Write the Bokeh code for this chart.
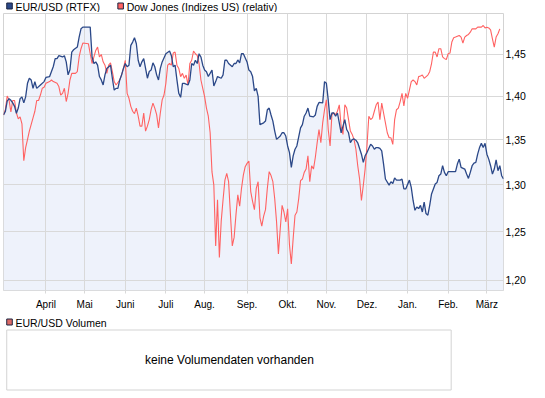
import pandas as pd
from bokeh.plotting import figure
from bokeh.models import Range1d, FixedTicker, CustomJSTickFormatter
from bokeh.layouts import column
from bokeh.core.properties import value
from bokeh.embed import file_html
from bokeh.resources import INLINE

# ---------------- data ----------------
series_names = ["EUR/USD (RTFX)", "Dow Jones (Indizes US) (relativ)"]
volume_name = "EUR/USD Volumen"
volume_note = "keine Volumendaten vorhanden"
start_date = "2011-03-01"
end_date = "2012-03-14"
month_labels = ["April", "Mai", "Juni", "Juli", "Aug.", "Sep.", "Okt.", "Nov.",
                "Dez.", "Jan.", "Feb.", "März"]
y_ticks = [1.20, 1.25, 1.30, 1.35, 1.40, 1.45]

# trading-day index (0 = first trading day) and EUR/USD close
eur_day = [0, 1, 2, 3, 4, 5, 6, 7, 8, 9, 10, 11, 12, 13, 14, 15, 16, 17, 18, 20,
           22, 23, 25, 26, 27, 28, 29, 30, 32, 33, 34, 35, 36, 37, 38, 40, 41, 42, 43, 44,
           47, 48, 49, 50, 51, 52, 53, 54, 55, 56, 58, 59, 60, 61, 62, 63, 64, 65, 66, 67,
           68, 69, 70, 71, 72, 73, 74, 75, 76, 77, 78, 79, 80, 81, 82, 83, 84, 85, 86, 88,
           90, 91, 92, 93, 94, 95, 96, 97, 98, 100, 101, 102, 103, 104, 105, 106, 107, 108, 109, 110,
           111, 113, 114, 115, 116, 118, 119, 120, 121, 122, 124, 125, 126, 127, 128, 129, 130, 132, 133, 134,
           135, 136, 137, 138, 139, 141, 142, 143, 144, 145, 146, 147, 148, 150, 151, 152, 153, 154, 155, 156,
           157, 158, 159, 161, 162, 163, 164, 165, 166, 168, 169, 170, 171, 173, 174, 175, 176, 177, 178, 179,
           180, 181, 182, 183, 184, 185, 186, 187, 188, 189, 190, 191, 192, 194, 195, 196, 197, 199, 200, 201,
           202, 203, 204, 205, 206, 207, 209, 210, 211, 212, 213, 215, 216, 217, 218, 220, 221, 222, 223, 224,
           225, 226, 227, 228, 229, 230, 231, 232, 233, 234, 235, 236, 237, 238, 239, 240, 241, 243, 245, 246,
           247, 248, 250, 251, 252, 253, 254, 255, 256, 257, 258, 259, 260, 261, 262, 263, 264, 265, 266, 267,
           268, 269, 270, 271]
eur_val = [1.378, 1.382, 1.394, 1.397, 1.395, 1.392, 1.388, 1.380, 1.386, 1.397, 1.399, 1.392, 1.399, 1.415, 1.421, 1.419, 1.409, 1.417, 1.409, 1.413,
           1.417, 1.422, 1.423, 1.429, 1.435, 1.4445, 1.4445, 1.448, 1.4465, 1.448, 1.4405, 1.425, 1.431, 1.4524, 1.4552, 1.4585, 1.4707, 1.4809, 1.483, 1.483,
           1.483, 1.4465, 1.4386, 1.4405, 1.4366, 1.423, 1.419, 1.413, 1.425, 1.4327, 1.4366, 1.421, 1.407, 1.409, 1.409, 1.419, 1.425, 1.4327, 1.4386, 1.4347,
           1.4366, 1.4605, 1.4646, 1.4699, 1.4626, 1.4425, 1.4347, 1.4406, 1.4445, 1.4327, 1.421, 1.429, 1.4307, 1.4394, 1.4347, 1.425, 1.419, 1.4327, 1.4405, 1.4504,
           1.4537, 1.448, 1.4347, 1.4366, 1.419, 1.4032, 1.3985, 1.415, 1.415, 1.413, 1.419, 1.4386, 1.4366, 1.4425, 1.4386, 1.4504, 1.4465, 1.4366, 1.4307, 1.4288,
           1.423, 1.4307, 1.4118, 1.417, 1.423, 1.421, 1.425, 1.4425, 1.4425, 1.4386, 1.4347, 1.4386, 1.4386, 1.4429, 1.4394, 1.4504, 1.4504, 1.4405, 1.4307, 1.4288,
           1.423, 1.406, 1.409, 1.3996, 1.367, 1.369, 1.371, 1.384, 1.386, 1.378, 1.371, 1.3596, 1.3502, 1.354, 1.3577, 1.3577, 1.354, 1.3428, 1.3354, 1.319,
           1.3318, 1.3391, 1.3428, 1.3633, 1.367, 1.3766, 1.3803, 1.386, 1.3766, 1.3758, 1.378, 1.388, 1.3925, 1.392, 1.417, 1.415, 1.3955, 1.3727, 1.3803, 1.3803,
           1.3766, 1.3803, 1.369, 1.3577, 1.3652, 1.3727, 1.3614, 1.3577, 1.3464, 1.35, 1.3507, 1.3493, 1.3464, 1.3336, 1.3245, 1.3318, 1.3354, 1.3446, 1.3428, 1.3391,
           1.341, 1.341, 1.340, 1.3373, 1.3226, 1.3062, 1.2996, 1.3032, 1.3014, 1.3074, 1.305, 1.305, 1.3062, 1.2954, 1.2954, 1.305, 1.2972, 1.283, 1.2725, 1.276,
           1.2743, 1.2778, 1.2707, 1.2813, 1.269, 1.2673, 1.2778, 1.29, 1.2954, 1.3007, 1.3025, 1.3098, 1.3116, 1.3208, 1.3135, 1.3098, 1.3142, 1.3142, 1.3142, 1.3226,
           1.3281, 1.319, 1.3171, 1.3116, 1.3069, 1.3135, 1.3208, 1.3237, 1.3245, 1.3336, 1.341, 1.3457, 1.341, 1.3457, 1.3336, 1.3281, 1.3208, 1.3116, 1.3171, 1.3274,
           1.3153, 1.3208, 1.3098, 1.3062]

# trading-day index and Dow Jones, rebased to the EUR/USD start value
dow_day = [0, 1, 2, 3, 4, 5, 6, 7, 8, 9, 10, 11, 12, 13, 14, 16, 17, 18, 19, 20,
           21, 22, 23, 25, 26, 27, 29, 30, 31, 32, 33, 34, 35, 36, 37, 39, 40, 41, 42, 43,
           46, 47, 48, 49, 50, 51, 52, 53, 54, 55, 56, 57, 58, 59, 60, 61, 63, 64, 65, 66,
           67, 68, 69, 70, 71, 72, 73, 74, 75, 76, 77, 78, 79, 80, 81, 82, 83, 84, 85, 86,
           87, 88, 89, 90, 91, 92, 93, 94, 95, 96, 97, 98, 99, 100, 101, 102, 103, 104, 105, 106,
           107, 108, 109, 110, 111, 112, 113, 114, 115, 116, 117, 118, 119, 120, 121, 122, 123, 124, 125, 126,
           127, 128, 129, 130, 131, 132, 133, 134, 135, 136, 137, 138, 139, 140, 141, 142, 143, 144, 145, 146,
           147, 148, 149, 150, 151, 152, 153, 154, 155, 156, 157, 158, 159, 160, 161, 162, 163, 164, 165, 166,
           167, 168, 169, 170, 171, 172, 173, 174, 175, 176, 177, 178, 179, 180, 181, 182, 183, 184, 185, 186,
           187, 188, 189, 190, 191, 192, 193, 194, 195, 196, 197, 198, 199, 200, 201, 202, 203, 204, 205, 206,
           207, 208, 209, 210, 211, 212, 213, 214, 215, 216, 217, 218, 219, 220, 221, 222, 223, 224, 225, 226,
           227, 228, 230, 231, 232, 233, 234, 235, 236, 237, 238, 239, 240, 241, 242, 243, 244, 245, 247, 248,
           249, 250, 251, 252, 253, 254, 256, 257, 258, 259, 260, 261, 262, 263, 264, 265, 266, 267, 268, 269]
dow_val = [1.378, 1.384, 1.400, 1.3955, 1.3815, 1.3948, 1.3948, 1.3803, 1.3735, 1.3758, 1.3679, 1.3263, 1.341, 1.350, 1.3596, 1.3747, 1.3823, 1.3948, 1.3948, 1.4012,
           1.4091, 1.4103, 1.415, 1.417, 1.4189, 1.417, 1.415, 1.4111, 1.4012, 1.4032, 1.4091, 1.3936, 1.4032, 1.4189, 1.4268, 1.4268, 1.4288, 1.4465, 1.4565, 1.4634,
           1.4626, 1.4504, 1.4386, 1.4465, 1.4544, 1.4585, 1.4465, 1.4495, 1.4406, 1.4366, 1.4268, 1.4366, 1.4394, 1.4288, 1.417, 1.413, 1.4189, 1.4248, 1.4327, 1.4425,
           1.4032, 1.3974, 1.388, 1.3823, 1.3795, 1.386, 1.3766, 1.3652, 1.3652, 1.3803, 1.3596, 1.3652, 1.3727, 1.3841, 1.3917, 1.386, 1.3784, 1.3633, 1.3803, 1.3955,
           1.4012, 1.415, 1.4366, 1.4386, 1.4366, 1.4512, 1.4524, 1.4366, 1.4327, 1.4229, 1.4268, 1.4209, 1.4248, 1.413, 1.4386, 1.4425, 1.4537, 1.4504, 1.4483, 1.4386,
           1.4189, 1.4091, 1.3993, 1.386, 1.3766, 1.3577, 1.314, 1.2996, 1.2352, 1.2838, 1.2233, 1.261, 1.2838, 1.305, 1.3124, 1.3033, 1.268, 1.2352, 1.244, 1.2679,
           1.289, 1.2768, 1.2961, 1.3105, 1.3197, 1.3234, 1.3259, 1.2926, 1.2821, 1.2732, 1.2961, 1.3033, 1.2645, 1.2557, 1.2663, 1.2732, 1.2961, 1.3143, 1.310, 1.3033,
           1.2848, 1.2602, 1.227, 1.2532, 1.2778, 1.2707, 1.2602, 1.2742, 1.2362, 1.2168, 1.2429, 1.2673, 1.2707, 1.2848, 1.3044, 1.3062, 1.3135, 1.3171, 1.3318, 1.3033,
           1.3208, 1.3171, 1.3299, 1.3464, 1.3614, 1.3464, 1.369, 1.3841, 1.3955, 1.3614, 1.3428, 1.3784, 1.3803, 1.3784, 1.3823, 1.3898, 1.3652, 1.3558, 1.3898, 1.386,
           1.373, 1.3596, 1.3558, 1.35, 1.3391, 1.3208, 1.3062, 1.283, 1.2991, 1.3171, 1.3428, 1.3766, 1.3727, 1.3747, 1.3823, 1.3898, 1.393, 1.3727, 1.3917, 1.3803,
           1.369, 1.3577, 1.352, 1.352, 1.3446, 1.3727, 1.3841, 1.386, 1.3936, 1.4032, 1.3884, 1.4032, 1.3974, 1.407, 1.417, 1.4189, 1.417, 1.413, 1.4229, 1.4236,
           1.4248, 1.4209, 1.4248, 1.4288, 1.4386, 1.4524, 1.4524, 1.4465, 1.4565, 1.4565, 1.4465, 1.4445, 1.4433, 1.4504, 1.4512, 1.4646, 1.4699, 1.4707, 1.4727, 1.4707,
           1.4634, 1.4707, 1.4727, 1.474, 1.4768, 1.4809, 1.4809, 1.483, 1.483, 1.483, 1.485, 1.482, 1.483, 1.482, 1.4797, 1.4686, 1.4585, 1.4707, 1.4748, 1.4809]

# ---------------- styling ----------------
FONT = value("Liberation Sans")
BLUE = "#2b4888"
RED = "#ff6262"
FILL = "#eef2fb"
GRID = "#d9d9d9"
FRAME = "#d3d3d3"
W = 540

bdays = pd.bdate_range(start_date, end_date)
month_idx = [i for i in range(1, len(bdays)) if bdays[i].month != bdays[i - 1].month]
y_lo, y_hi = 1.19, 1.50

# legend strip (12 px)
lg = figure(width=W, height=12, x_range=Range1d(0, W), y_range=Range1d(12, 0),
            x_axis_type=None, y_axis_type=None, toolbar_location=None,
            output_backend="svg", min_border=0)
lg.outline_line_color = None
lg.grid.visible = False
leg_x = [3.5, 123.5]
lg.quad(left=leg_x, right=[x + 6 for x in leg_x], top=2.5, bottom=8.5,
        fill_color=[BLUE, RED], line_color="#1c2540")
lg.text(x=[x + 9.5 for x in leg_x], y=6, text=series_names, text_font=FONT,
        text_font_size="10.5px", text_baseline="middle", text_align="left", text_color="#000000")

# main chart: frame 500 x 280 at (3, 13)
p = figure(width=W, height=300, x_range=Range1d(0, len(bdays) - 1), y_range=Range1d(y_lo, y_hi),
           y_axis_type="log", y_axis_location="right", toolbar_location=None,
           output_backend="svg", min_border_left=3, min_border_right=W - 503,
           min_border_top=1, min_border_bottom=19)
p.outline_line_color = FRAME
p.background_fill_color = "white"
p.border_fill_color = "white"

area = p.varea(x=eur_day, y1=y_lo, y2=eur_val, fill_color=FILL)
area.level = "image"
p.line(dow_day, dow_val, line_color=RED, line_width=1.1)
p.line(eur_day, eur_val, line_color=BLUE, line_width=1.3)

p.xaxis.ticker = FixedTicker(ticks=month_idx)
p.xaxis.major_label_overrides = {i: m for i, m in zip(month_idx, month_labels)}
p.xaxis.axis_line_color = None
p.xaxis.major_tick_line_color = GRID
p.xaxis.major_tick_out = 3
p.xaxis.major_tick_in = 0
p.xaxis.minor_tick_line_color = None
p.xaxis.major_label_standoff = 5
p.xaxis.major_label_text_font = "Liberation Sans"
p.xaxis.major_label_text_font_size = "10px"
p.xaxis.major_label_text_color = "#000000"

p.yaxis.ticker = FixedTicker(ticks=y_ticks)
p.yaxis.formatter = CustomJSTickFormatter(code="return tick.toFixed(2).replace('.', ',');")
p.yaxis.axis_line_color = None
p.yaxis.major_tick_line_color = None
p.yaxis.minor_tick_line_color = None
p.yaxis.major_tick_in = 0
p.yaxis.major_tick_out = 0
p.yaxis.major_label_standoff = 2
p.yaxis.major_label_text_font = "Liberation Sans"
p.yaxis.major_label_text_font_size = "10.5px"
p.yaxis.major_label_text_color = "#000000"

p.xgrid.ticker = FixedTicker(ticks=month_idx)
p.ygrid.ticker = FixedTicker(ticks=y_ticks)
p.grid.grid_line_color = GRID
p.grid.grid_line_width = 1

# volume panel (80 px)
vf = figure(width=W, height=80, x_range=Range1d(0, W), y_range=Range1d(80, 0),
            x_axis_type=None, y_axis_type=None, toolbar_location=None,
            output_backend="svg", min_border=0)
vf.outline_line_color = None
vf.grid.visible = False
vf.quad(left=3.5, right=9.5, top=6.5, bottom=12.5, fill_color="#dd6a66", line_color="#1c2540")
vf.text(x=13, y=10, text=[volume_name], text_font=FONT, text_font_size="10.5px",
        text_baseline="middle", text_align="left", text_color="#000000")
vf.quad(left=3.5, right=483.5, top=17.5, bottom=77.5, fill_color=None, line_color=FRAME)
vf.text(x=244, y=47.5, text=[volume_note], text_font=FONT, text_font_size="12px",
        text_baseline="middle", text_align="center", text_color="#000000")

layout = column(lg, p, vf)
open("out.html", "w").write(file_html(layout, INLINE))
